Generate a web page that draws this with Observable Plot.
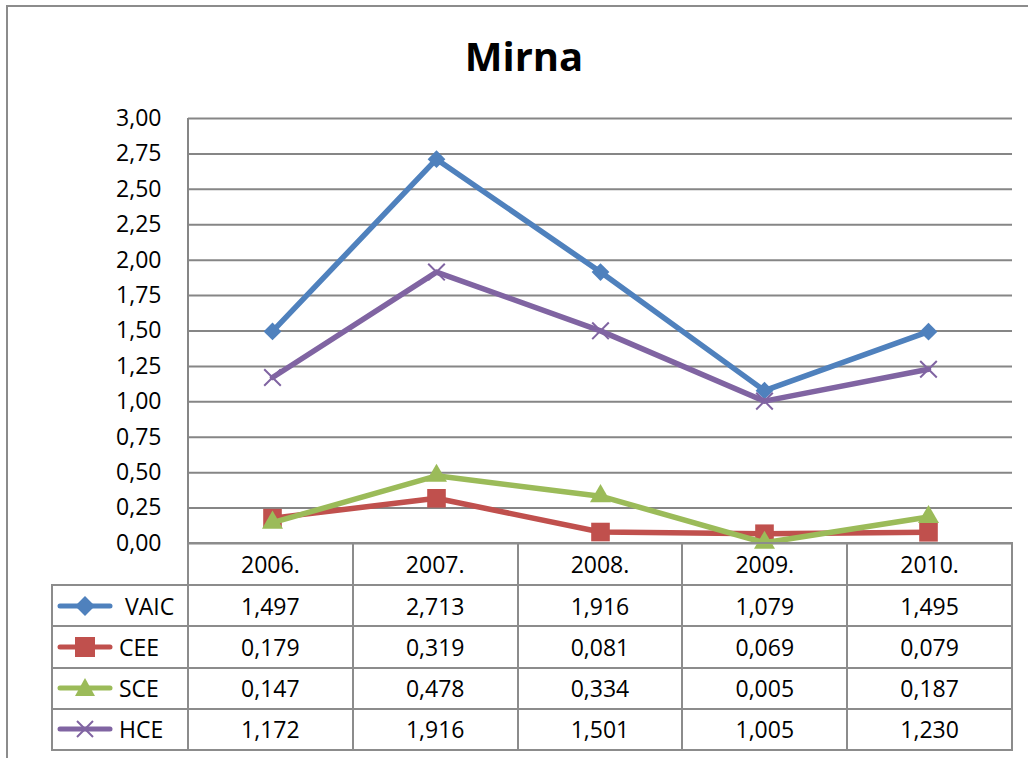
<!DOCTYPE html>
<html><head><meta charset="utf-8">
<script src="https://cdn.jsdelivr.net/npm/d3@7"></script>
<script src="https://cdn.jsdelivr.net/npm/@observablehq/plot@0.6"></script>
<style>
body{margin:0;background:#fff;}
#wrap{position:relative;width:1028px;height:758px;overflow:hidden;font-family:"Open Sans",sans-serif;color:#000;}
#frame{position:absolute;left:6px;top:5px;width:1100px;height:900px;border-left:2px solid #8c8c8c;border-top:2px solid #8c8c8c;}
#title{position:absolute;left:0;width:1048px;top:36px;text-align:center;font-weight:700;font-size:40px;line-height:40px;}
#chart{position:absolute;left:0;top:0;}
.cell{position:absolute;box-sizing:border-box;border:2px solid #8c8c8c;display:flex;align-items:center;justify-content:center;font-size:23px;}
.leg{justify-content:flex-start;}
</style></head><body><div id="wrap"><div id="frame"></div><div id="title">Mirna</div><div id="chart"></div></div>
<script>
const years = ["2006.", "2007.", "2008.", "2009.", "2010."];
const seriesNames = ["VAIC", "CEE", "SCE", "HCE"];
const vaic = [1.497, 2.713, 1.916, 1.079, 1.495];
const cee  = [0.179, 0.319, 0.081, 0.069, 0.079];
const sce  = [0.147, 0.478, 0.334, 0.005, 0.187];
const hce  = [1.172, 1.916, 1.501, 1.005, 1.230];
const yTicks = [0, 0.25, 0.5, 0.75, 1, 1.25, 1.5, 1.75, 2, 2.25, 2.5, 2.75, 3];
const colors = ["#4F81BD", "#C0504D", "#9BBB59", "#8064A2"];
const symbols = ["diamond2", "square", "triangle", "times"];
const radii = [8, 10.5, 7.8, 7.6];

const seriesValues = [vaic, cee, sce, hce];
const fmt3 = v => v.toFixed(3).replace(".", ",");
const fmt2 = v => v.toFixed(2).replace(".", ",");

const W = 1028, H = 758, mL = 188, mR = 16, mT = 118, mB = 215;

const marks = [
  Plot.ruleY(yTicks, {stroke: "#868686", strokeWidth: 2}),
  Plot.axisY({ticks: yTicks, tickFormat: fmt2, tickSize: 0, tickPadding: 27, fontSize: 23, fill: "#000", label: null})
];
seriesNames.forEach((name, si) => {
  const rows = years.map((yr, i) => ({year: yr, value: seriesValues[si][i], series: name}));
  marks.push(Plot.lineY(rows, {x: "year", y: "value", stroke: colors[si], strokeWidth: 5.5, strokeLinejoin: "round"}));
  if (symbols[si] === "times") {
    marks.push(Plot.dot(rows, {x: "year", y: "value", symbol: "times", r: radii[si], stroke: colors[si], strokeWidth: 2}));
  } else {
    marks.push(Plot.dot(rows, {x: "year", y: "value", symbol: symbols[si], r: radii[si], fill: colors[si], stroke: "none"}));
  }
});

const plot = Plot.plot({
  width: W, height: H,
  marginLeft: mL, marginRight: mR, marginTop: mT, marginBottom: mB,
  style: {fontFamily: "Open Sans, sans-serif", background: "transparent", overflow: "visible"},
  x: {type: "point", domain: years, padding: 0.5, axis: null},
  y: {domain: [0, 3], axis: null},
  marks
});
document.getElementById("chart").appendChild(plot);

// left axis line of the plot area (continues into the table)
const svg = d3.select(plot);
svg.append("line").attr("x1", mL).attr("x2", mL).attr("y1", mT).attr("y2", H - mB)
  .attr("stroke", "#868686").attr("stroke-width", 2);

// data table
const wrap = document.getElementById("wrap");
const colW = (W - mL - mR) / years.length;
const top0 = H - mB;
const headH = 42, rowH = 41.25;
const legL = 52;
function cell(x, y, w, h, html, cls) {
  const d = document.createElement("div");
  d.className = "cell" + (cls ? " " + cls : "");
  d.style.left = (x - 1) + "px"; d.style.top = (y - 1) + "px";
  d.style.width = (w + 2) + "px"; d.style.height = (h + 2) + "px";
  d.innerHTML = html;
  wrap.appendChild(d);
}
years.forEach((yr, i) => cell(mL + i * colW, top0, colW, headH, yr));
function icon(si) {
  const c = colors[si];
  let m = "";
  if (si === 0) m = `<rect x="21" y="3" width="14" height="14" fill="${c}" transform="rotate(45 28 10)"/>`;
  if (si === 1) m = `<rect x="18" y="0" width="20" height="20" fill="${c}"/>`;
  if (si === 2) m = `<polygon points="28,0 38,18 18,18" fill="${c}"/>`;
  if (si === 3) m = `<path d="M20,2L36,18M36,2L20,18" stroke="${c}" stroke-width="2"/>`;
  return `<svg width="58" height="20" style="margin-left:4px;margin-right:4px;overflow:visible"><line x1="3" y1="10" x2="53" y2="10" stroke="${c}" stroke-width="5" stroke-linecap="round"/>${m}</svg>`;
}
seriesNames.forEach((name, si) => {
  const y = top0 + headH + si * rowH;
  cell(legL, y, mL - legL, rowH, icon(si) + `<span style="margin-left:${si===0?6:0}px">${name}</span>`, "leg");
  years.forEach((yr, i) => cell(mL + i * colW, y, colW, rowH, fmt3(seriesValues[si][i])));
});
</script></body></html>
